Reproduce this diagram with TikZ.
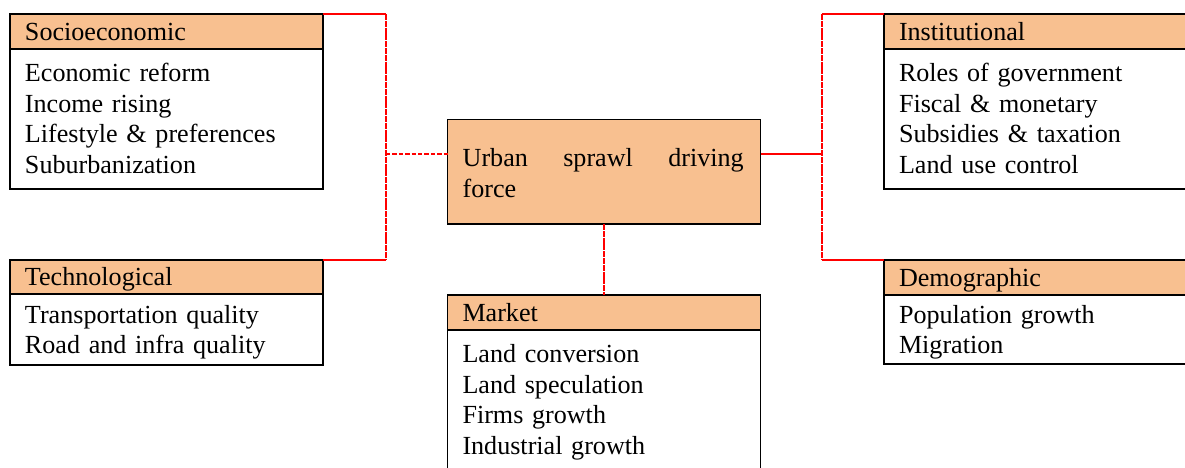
\documentclass[tikz,border=0pt]{standalone}
\usepackage{fontspec}
\setmainfont{Liberation Serif}
\definecolor{peach}{RGB}{248,192,144}
\newcommand\myfont{\fontsize{13.05}{15.3}\selectfont}
\tikzset{
  hdr/.style={draw=black, line width=0.75pt, fill=peach, anchor=north west,
    minimum width=156.5pt, minimum height=17.5pt, text width=141.5pt,
    inner xsep=7.5pt, inner ysep=0pt, outer sep=0pt, align=left, font=\myfont,
    text height=10.7pt, text depth=2pt},
  bodybox/.style={draw=black, line width=0.75pt, fill=white, anchor=north west,
    minimum width=156.5pt, inner sep=0pt, outer sep=0pt},
  bodytext/.style={anchor=north west, inner sep=0pt, outer sep=0pt,
    text width=141.5pt, align=left, font=\myfont},
  solidlink/.style={red, line width=0.85pt},
  vlinkthick/.style={red, line width=1.1pt, dash pattern=on 3pt off 0.4pt},
  vlinkthin/.style={red, line width=0.8pt, dash pattern=on 3pt off 0.4pt},
  dashlink/.style={red, line width=0.8pt, dash pattern=on 2.2pt off 1pt},
}
\begin{document}
\begin{tikzpicture}[x=0.5pt,y=-0.5pt]
\useasboundingbox (0,0) rectangle (1185,467);
% Socioeconomic
\node[hdr] (soch) at (10,14) {Socioeconomic};
\node[bodybox, minimum height=70pt] (socb) at (soch.south west) {};
\node[bodytext] (soct) at ([xshift=7.5pt,yshift=-5.64pt]socb.north west)
  {\strut Economic reform\\Income rising\\Lifestyle \& preferences\\Suburbanization};
% Technological
\node[hdr, minimum height=17pt] (techh) at (10,260) {Technological};
\node[bodybox, minimum height=35.5pt] (techb) at (techh.south west) {};
\node[bodytext] (techt) at ([xshift=7.5pt,yshift=-3.94pt]techb.north west)
  {\strut Transportation quality\\Road and infra quality};
% Central
\node[bodybox, fill=peach, minimum height=52.35pt] (cen) at (447.5,119.3) {};
\node[bodytext, text width=140.5pt, align=justify] (cent) at ([xshift=7.6pt,yshift=-12.99pt]cen.north west)
  {\strut Urban sprawl driving\linebreak force};
% Market
\node[hdr] (markh) at (447.5,295) {Market};
\node[bodybox, minimum height=80pt] (markb) at (markh.south west) {};
\node[bodytext] (markt) at ([xshift=7.5pt,yshift=-5.64pt]markb.north west)
  {\strut Land conversion\\Land speculation\\Firms growth\\Industrial growth};
% Institutional
\node[hdr] (insth) at (884,14) {Institutional};
\node[bodybox, minimum height=70pt] (instb) at (insth.south west) {};
\node[bodytext] (instt) at ([xshift=7.5pt,yshift=-5.64pt]instb.north west)
  {\strut Roles of government\\Fiscal \& monetary\\Subsidies \& taxation\\Land use control};
% Demographic
\node[hdr] (demh) at (884,260) {Demographic};
\node[bodybox, minimum height=34.5pt] (demb) at (demh.south west) {};
\node[bodytext] (demt) at ([xshift=7.5pt,yshift=-3.44pt]demb.north west)
  {\strut Population growth\\Migration};
% Connectors
\coordinate (jl) at (386,154);
\coordinate (jr) at (822,154);
\draw[solidlink] (soch.north east) -- (soch.north east -| jl);
\draw[vlinkthick] (soch.north east -| jl) -- (techh.north east -| jl);
\draw[solidlink] (techh.north east -| jl) -- (techh.north east);
\draw[dashlink] (jl) -- (jl -| cen.west);
\draw[solidlink] (cen.east |- jr) -- (jr);
\draw[vlinkthin] (insth.north west -| jr) -- (demh.north west -| jr);
\draw[solidlink] (insth.north west -| jr) -- (insth.north west);
\draw[solidlink] (demh.north west -| jr) -- (demh.north west);
\draw[vlinkthin] (cen.south) -- (markh.north);
\end{tikzpicture}
\end{document}
